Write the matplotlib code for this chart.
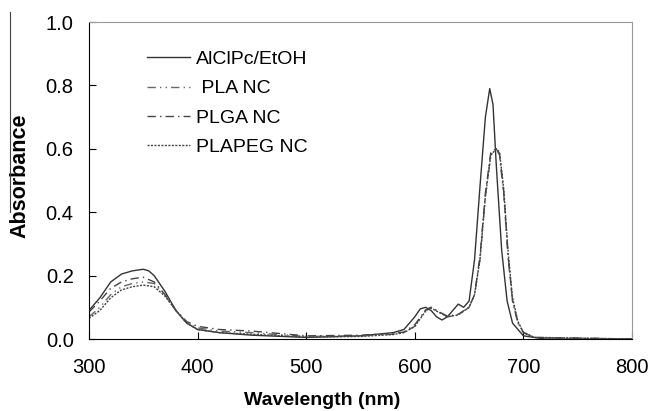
import matplotlib
matplotlib.use("Agg")
import matplotlib.pyplot as plt
from matplotlib.lines import Line2D

plt.rcParams["font.family"] = ["Liberation Sans", "DejaVu Sans"]

# AlClPc/EtOH
wl_free = [300, 310, 320, 330, 340, 350, 355, 360, 370, 380, 390, 400, 420, 450, 500,
           550, 580, 590, 600, 605, 610, 615, 620, 625, 630, 640, 645, 650, 655, 660,
           665, 669, 672, 675, 680, 685, 690, 700, 720, 800]
abs_free = [0.09, 0.13, 0.18, 0.205, 0.215, 0.22, 0.215, 0.20, 0.15, 0.09, 0.05, 0.03, 0.02, 0.012, 0.005,
            0.01, 0.02, 0.03, 0.07, 0.095, 0.10, 0.09, 0.07, 0.06, 0.07, 0.11, 0.10, 0.12, 0.25, 0.48,
            0.70, 0.79, 0.74, 0.55, 0.28, 0.12, 0.05, 0.01, 0.0, 0.0]

# nanocapsules
wl_nc = [300, 310, 320, 330, 340, 350, 360, 370, 380, 390, 400, 420, 450, 500,
         550, 580, 590, 600, 610, 615, 620, 630, 640, 650, 655, 660, 665, 670,
         675, 678, 682, 686, 690, 695, 700, 710, 800]
abs_pla = [0.07, 0.10, 0.14, 0.165, 0.175, 0.18, 0.175, 0.14, 0.09, 0.05, 0.035, 0.025, 0.02, 0.008,
           0.01, 0.015, 0.02, 0.04, 0.09, 0.10, 0.09, 0.07, 0.075, 0.10, 0.14, 0.25, 0.45, 0.58,
           0.60, 0.58, 0.45, 0.25, 0.12, 0.05, 0.02, 0.005, 0.0]
abs_plga = [0.085, 0.12, 0.16, 0.18, 0.19, 0.195, 0.18, 0.14, 0.09, 0.055, 0.04, 0.03, 0.025, 0.01,
            0.012, 0.018, 0.022, 0.045, 0.092, 0.10, 0.09, 0.072, 0.078, 0.10, 0.14, 0.26, 0.46, 0.59,
            0.60, 0.585, 0.46, 0.26, 0.12, 0.05, 0.02, 0.005, 0.0]
abs_peg = [0.065, 0.09, 0.13, 0.155, 0.165, 0.17, 0.165, 0.135, 0.09, 0.05, 0.03, 0.02, 0.015, 0.006,
           0.008, 0.014, 0.02, 0.04, 0.088, 0.098, 0.088, 0.07, 0.076, 0.10, 0.14, 0.25, 0.45, 0.58,
           0.60, 0.59, 0.47, 0.27, 0.13, 0.055, 0.022, 0.005, 0.0]

fig = plt.figure(figsize=(6.52, 4.11), dpi=100)
ax = fig.add_axes([89 / 652, 1 - 339 / 411, 543 / 652, 317 / 411])

ax.plot(wl_free, abs_free, color="#333333", lw=1.0, ls="-", label="AlClPc/EtOH")
ax.plot(wl_nc, abs_pla, color="#666666", lw=1.0, ls=(0, (6, 3, 1, 3, 1, 3)), label=" PLA NC")
ax.plot(wl_nc, abs_plga, color="#444444", lw=1.0, ls=(0, (6, 3, 1, 3)), label="PLGA NC")
ax.plot(wl_nc, abs_peg, color="#444444", lw=1.0, ls=(0, (1.5, 1)), label="PLAPEG NC")

ax.set_xlim(300, 800)
ax.set_ylim(0, 1.0)
ax.set_xticks([300, 400, 500, 600, 700, 800])
ax.set_yticks([0.0, 0.2, 0.4, 0.6, 0.8, 1.0])
ax.set_yticklabels(["0.0", "0.2", "0.4", "0.6", "0.8", "1.0"])
ax.tick_params(direction="in", length=5, labelsize=14.5, color="black")
ax.tick_params(axis="x", pad=14)
ax.tick_params(axis="y", pad=11)

for s in ["top", "right"]:
    ax.spines[s].set_color("#999999")
for s in ["left", "bottom"]:
    ax.spines[s].set_color("black")

ax.set_xlabel("Wavelength (nm)", fontsize=14, fontweight="bold")
ax.xaxis.set_label_coords(0.429, -0.167)
ax.set_ylabel("Absorbance", fontsize=15.5, fontweight="bold")
ax.yaxis.set_label_coords(-0.108, 0.514)

ax.legend(loc="upper left", bbox_to_anchor=(0.107, 0.91), frameon=False, fontsize=14,
          handlelength=2.2, handletextpad=0.3, labelspacing=0.6, borderpad=0, borderaxespad=0)

fig.add_artist(Line2D([10 / 652, 10 / 652], [1 - 12 / 411, 1 - 212 / 411], color="#444444", lw=0.8))

fig.savefig("out.png", dpi=100)
